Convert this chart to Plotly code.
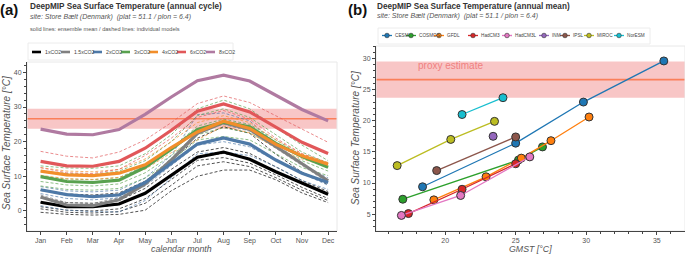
import plotly.graph_objects as go

W, H = 685, 255
FONT = "Liberation Sans, Arial, sans-serif"

# ---------------- data: panel (a) annual cycle ----------------
months = ["Jan", "Feb", "Mar", "Apr", "May", "Jun", "Jul", "Aug", "Sep", "Oct", "Nov", "Dec"]
month_num = list(range(1, 13))

co2_levels = ["1xCO2", "1.5xCO2", "2xCO2", "3xCO2", "4xCO2", "6xCO2", "8xCO2"]
co2_colors = ["#000000", "#808080", "#4e79a7", "#59a14f", "#f28e2b", "#e15759", "#b07aa1"]

mean_1x = [2.5, 1.2, 1.2, 2.0, 5.1, 10.4, 15.5, 17.0, 14.9, 11.3, 8.0, 4.8]
mean_1_5x = [4.0, 1.7, 1.5, 3.2, 7.8, 14.7, 22.4, 25.5, 23.5, 18.5, 13.7, 8.7]
mean_2x = [6.1, 4.7, 4.1, 4.6, 8.2, 13.7, 19.3, 21.1, 19.3, 14.7, 10.9, 8.2]
mean_3x = [9.9, 8.5, 8.2, 8.9, 12.6, 17.8, 23.5, 25.6, 24.3, 19.5, 15.7, 12.6]
mean_4x = [11.5, 10.4, 10.2, 10.9, 13.3, 18.3, 22.8, 25.9, 23.8, 19.2, 15.9, 13.5]
mean_6x = [14.3, 13.0, 12.9, 14.3, 18.1, 23.3, 28.8, 30.9, 28.6, 24.1, 19.8, 16.6]
mean_8x = [23.6, 22.2, 22.0, 23.5, 27.9, 32.9, 37.6, 39.2, 37.5, 33.4, 29.3, 26.0]
ensemble_means = [mean_1x, mean_1_5x, mean_2x, mean_3x, mean_4x, mean_6x, mean_8x]

# individual models (dashed), per CO2 level
models_1x = [
    [5.9, 4.9, 4.6, 5.2, 8.6, 14.5, 21.0, 24.3, 22.4, 16.4, 11.2, 7.6],
    [3.7, 2.4, 2.2, 3.0, 6.5, 12.0, 17.0, 18.3, 16.6, 12.6, 8.8, 5.6],
    [2.4, 1.2, 1.0, 1.8, 5.0, 10.5, 15.6, 16.6, 15.0, 11.4, 7.8, 4.6],
    [1.2, 0.2, 0.0, 0.6, 3.5, 9.0, 14.6, 15.4, 13.8, 10.4, 6.8, 3.6],
    [0.6, -0.4, -0.6, -0.2, 2.2, 7.4, 13.0, 14.2, 12.8, 9.6, 6.0, 3.0],
    [-0.4, -1.0, -1.2, -1.0, 0.2, 5.8, 10.0, 11.8, 11.8, 9.0, 5.2, 2.4],
]
models_1_5x = [
    [4.6, 2.4, 2.2, 3.8, 8.4, 15.2, 22.8, 25.0, 23.0, 18.0, 13.2, 8.2],
]
models_2x = [
    [7.0, 5.8, 5.5, 6.0, 9.5, 16.0, 27.8, 28.3, 26.0, 19.5, 13.5, 9.5],
    [5.0, 3.6, 3.2, 3.8, 7.2, 13.0, 19.0, 20.0, 18.5, 14.5, 10.8, 7.4],
    [1.5, 0.2, -0.2, -0.3, 3.0, 9.5, 16.5, 17.0, 16.0, 12.8, 8.8, 6.2],
]
models_3x = [
    [13.0, 12.4, 12.3, 13.0, 16.5, 22.0, 29.5, 32.0, 29.5, 24.0, 19.0, 14.5],
    [11.5, 10.8, 10.5, 11.5, 14.5, 20.0, 27.5, 29.5, 27.0, 22.0, 17.0, 13.8],
    [10.0, 9.2, 9.0, 9.6, 13.0, 18.0, 24.5, 26.5, 25.0, 20.5, 16.0, 12.6],
    [8.5, 7.5, 7.2, 7.8, 11.0, 16.0, 22.0, 24.0, 22.5, 18.5, 14.5, 11.5],
    [7.2, 6.2, 6.0, 6.5, 9.5, 14.5, 20.5, 21.5, 20.5, 16.5, 12.5, 10.2],
]
models_4x = [
    [12.5, 11.5, 11.3, 12.0, 15.0, 20.0, 25.5, 27.5, 25.5, 20.5, 16.5, 14.0],
    [10.3, 9.3, 9.1, 9.7, 12.0, 16.8, 20.5, 24.5, 22.5, 18.2, 15.0, 12.8],
]
models_6x = [
    [17.2, 15.8, 15.3, 17.0, 20.5, 25.5, 31.0, 33.2, 31.3, 27.5, 23.5, 19.8],
    [12.5, 11.0, 10.8, 12.0, 16.0, 21.0, 27.0, 29.0, 26.5, 21.0, 16.5, 13.8],
]
models_8x = []
individual_models = [models_1x, models_1_5x, models_2x, models_3x, models_4x, models_6x, models_8x]

# proxy estimate
proxy_mean = 26.6
proxy_err = 2.9

# ---------------- data: panel (b) annual mean vs GMST ----------------
model_names = ["CESM", "COSMOS", "GFDL", "HadCM3", "HadCM3L", "INM", "IPSL", "MIROC", "NorESM"]
model_colors = ["#1f77b4", "#2ca02c", "#ff7f0e", "#d62728", "#e377c2", "#9467bd", "#8c564b", "#bcbd22", "#17becf"]
gmst = [
    [18.4, 25.0, 29.8, 35.5],
    [17.0, 25.2, 26.9],
    [19.2, 22.9, 25.4, 27.5, 30.2],
    [17.4, 21.2, 25.0],
    [16.9, 21.1, 26.0],
    [23.4],
    [19.4, 25.0],
    [16.6, 20.4, 23.5],
    [21.2, 24.1],
]
sst_mean = [
    [9.4, 16.4, 23.0, 29.6],
    [7.4, 13.7, 15.8],
    [7.3, 11.0, 14.0, 16.8, 20.6],
    [5.1, 9.0, 13.1],
    [4.8, 8.0, 14.2],
    [17.5],
    [12.0, 17.4],
    [12.8, 17.0, 19.9],
    [21.0, 23.7],
]


def px(x):
    return x / W


def py(y):
    return 1 - y / H


fig = go.Figure()

# panel (a) traces: dashed individual models first, then means
for lvl, col, runs in zip(co2_levels, co2_colors, individual_models):
    for run in runs:
        fig.add_trace(go.Scatter(
            x=month_num, y=run, mode="lines", xaxis="x", yaxis="y",
            line=dict(color=col, width=0.8, dash="3px,2px"), opacity=0.85,
            showlegend=False, hoverinfo="skip"))
for lvl, col, vals in zip(co2_levels, co2_colors, ensemble_means):
    fig.add_trace(go.Scatter(
        x=month_num, y=vals, mode="lines", xaxis="x", yaxis="y", name=lvl,
        line=dict(color=col, width=3.2), showlegend=False))

# panel (b) traces
for name, col, xs, ys in zip(model_names, model_colors, gmst, sst_mean):
    fig.add_trace(go.Scatter(
        x=xs, y=ys, mode="lines+markers", xaxis="x2", yaxis="y2", name=name,
        line=dict(color=col, width=1.3),
        marker=dict(color=col, size=8, line=dict(color="#333333", width=1)),
        showlegend=False))

shapes = []
annotations = []

# proxy bands and lines
for xr, yr in [("x domain", "y"), ("x2 domain", "y2")]:
    shapes.append(dict(type="rect", xref=xr, yref=yr, x0=0, x1=1,
                       y0=proxy_mean - proxy_err, y1=proxy_mean + proxy_err,
                       fillcolor="rgba(240,128,128,0.45)", line=dict(width=0), layer="below"))
    shapes.append(dict(type="line", xref=xr, yref=yr, x0=0, x1=1,
                       y0=proxy_mean, y1=proxy_mean,
                       line=dict(color="#fa7f5a", width=1.6), layer="below"))

# plot outlines (light)
for x0, x1, y0, y1 in [(27, 337, 62, 231), (376, 685, 46, 231)]:
    shapes.append(dict(type="rect", xref="paper", yref="paper",
                       x0=px(x0), x1=px(x1), y0=py(y1), y1=py(y0),
                       line=dict(color="#e8e8e8", width=1), fillcolor="rgba(0,0,0,0)", layer="below"))

# legend boxes
shapes.append(dict(type="rect", xref="paper", yref="paper", x0=px(28), x1=px(233),
                   y0=py(60), y1=py(43), line=dict(color="#ececec", width=1), fillcolor="white"))
shapes.append(dict(type="rect", xref="paper", yref="paper", x0=px(378), x1=px(650),
                   y0=py(44), y1=py(28), line=dict(color="#ececec", width=1), fillcolor="white"))

# legend (a) entries
leg_a_x = [32, 61, 93, 121, 149, 177, 206]
for xx, lvl, col in zip(leg_a_x, co2_levels, co2_colors):
    shapes.append(dict(type="line", xref="paper", yref="paper", x0=px(xx), x1=px(xx + 9),
                       y0=py(52), y1=py(52), line=dict(color=col, width=2.6)))
    annotations.append(dict(x=px(xx + 10.5), y=py(52), xref="paper", yref="paper", text=lvl,
                            showarrow=False, xanchor="left", yanchor="middle",
                            font=dict(size=5.2, color="#444", family=FONT)))

# legend (b) entries
leg_b_x = [387, 411, 439, 473, 507, 544, 565, 589, 619]
for xx, name, col in zip(leg_b_x, model_names, model_colors):
    shapes.append(dict(type="line", xref="paper", yref="paper", x0=px(xx - 5), x1=px(xx + 5),
                       y0=py(35.5), y1=py(35.5), line=dict(color=col, width=1.3)))
    shapes.append(dict(type="circle", xref="paper", yref="paper",
                       x0=px(xx - 2.3), x1=px(xx + 2.3), y0=py(37.8), y1=py(33.2),
                       fillcolor=col, line=dict(color="#333", width=0.6)))
    annotations.append(dict(x=px(xx + 6), y=py(35.5), xref="paper", yref="paper", text=name,
                            showarrow=False, xanchor="left", yanchor="middle",
                            font=dict(size=4.7, color="#444", family=FONT)))

# titles
def ann(x, y, text, size, color="#333", bold=False, italic=False, anchor="left", angle=0,
        yanchor="middle"):
    t = text
    if bold:
        t = "<b>" + t + "</b>"
    if italic:
        t = "<i>" + t + "</i>"
    annotations.append(dict(x=px(x), y=py(y), xref="paper", yref="paper", text=t, showarrow=False,
                            xanchor=anchor, yanchor=yanchor, textangle=angle, borderpad=0,
                            font=dict(size=size, color=color, family=FONT)))

ann(-1, 10, "(a)", 15, "#111", bold=True)
ann(29, 6, "DeepMIP Sea Surface Temperature (annual cycle)", 8.2, "#333", bold=True)
ann(29, 17.5, "site: Store Bælt (Denmark)  (plat = 51.1 / plon = 6.4)", 7, "#555", italic=True)
ann(29, 29, "solid lines: ensemble mean / dashed lines: individual models", 5.6, "#555")
ann(347, 10, "(b)", 15, "#111", bold=True)
ann(376, 6, "DeepMIP Sea Surface Temperature (annual mean)", 8.2, "#333", bold=True)
ann(376, 16.5, "site: Store Bælt (Denmark)  (plat = 51.1 / plon = 6.4)", 7, "#555", italic=True)

# axis titles
ann(6, 143, "Sea Surface Temperature [°C]", 10, "#555", italic=True, anchor="center", angle=-90)
ann(355, 138, "Sea Surface Temperature [°C]", 10, "#555", italic=True, anchor="center", angle=-90)
ann(181, 254.5, "calendar month", 8.8, "#555", italic=True, anchor="center", yanchor="bottom")
ann(530, 254.5, "GMST [°C]", 8.8, "#555", italic=True, anchor="center", yanchor="bottom")

# proxy label
annotations.append(dict(x=17.9, y=proxy_mean + proxy_err - 0.7, xref="x2", yref="y2",
                        text="proxy estimate", showarrow=False, xanchor="left", yanchor="middle",
                        font=dict(size=10, color="#f08080", family=FONT)))

axis_common = dict(showline=True, linecolor="#444", linewidth=1, ticks="outside", ticklen=3,
                   tickcolor="#444", showgrid=False, zeroline=False,
                   tickfont=dict(size=7, color="#555", family=FONT))

fig.update_layout(
    width=W, height=H, margin=dict(l=0, r=0, t=0, b=0),
    paper_bgcolor="white", plot_bgcolor="white",
    font=dict(family=FONT),
    showlegend=False,
    xaxis=dict(domain=[px(27), px(337)], anchor="y", range=[0.48, 12.34],
               tickvals=month_num, ticktext=months, **axis_common),
    yaxis=dict(domain=[py(231), py(62)], anchor="x", range=[-5.8, 43],
               tickvals=[0, 10, 20, 30, 40],
               minor=dict(dtick=2, ticklen=2, tickcolor="#444", ticks="outside"), **axis_common),
    xaxis2=dict(domain=[px(376), 1.0], anchor="y2", range=[15.1, 37.0],
                tickvals=[20, 25, 30, 35],
                minor=dict(dtick=1, ticklen=2, tickcolor="#444", ticks="outside"), **axis_common),
    yaxis2=dict(domain=[py(231), py(46)], anchor="x2", range=[2.3, 32.0],
                tickvals=[5, 10, 15, 20, 25, 30],
                minor=dict(dtick=1, ticklen=2, tickcolor="#444", ticks="outside"), **axis_common),
    shapes=shapes, annotations=annotations,
)

fig.write_html(
    "out.html",
    config={"displayModeBar": False},
    post_script="document.body.style.margin='0';document.body.style.overflow='hidden';",
)
